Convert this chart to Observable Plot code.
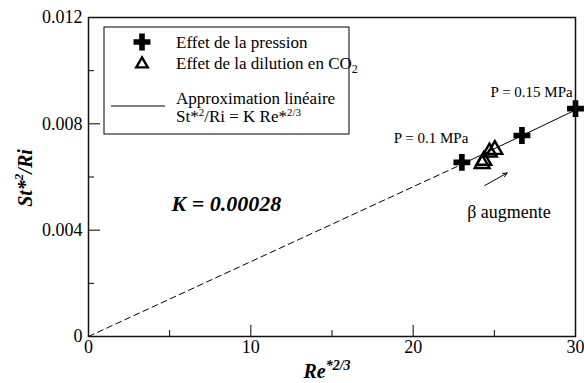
<!DOCTYPE html>
<html><head><meta charset="utf-8">
<script src="https://cdn.jsdelivr.net/npm/d3@7"></script>
<script src="https://cdn.jsdelivr.net/npm/@observablehq/plot@0.6"></script>
<style>
body{margin:0;background:#fff;}
#chart svg{display:block;}
</style></head><body><div id="chart"></div>
<script>
// ---- data ----
const pressureX = [23.0, 26.7, 30.0];
const pressureY = [0.00655, 0.00756, 0.00857];
const dilutionX = [24.25, 24.35, 24.7, 25.03];
const dilutionY = [0.00650, 0.00662, 0.00693, 0.00703];
const fitDashedX = [0, 22.9];
const fitDashedY = [0, 0.00645];
const fitSolidX = [22.9, 30.0];
const fitSolidY = [0.00645, 0.00852];
const arrowFrom = [24.41, 0.00568];
const arrowTo = [25.79, 0.00615];
const xMajorTicks = [0, 10, 20, 30];
const xMinorTicks = [5, 15, 25];
const yMajorTicks = [0, 0.004, 0.008, 0.012];
const yTickLabels = ["0", "0.004", "0.008", "0.012"];
const yMinorTicks = [0.002, 0.006, 0.010];
const pressureLabels = ["P = 0.1 MPa", "P = 0.15 MPa"];
const pressureLabelX = [21.1, 27.3];
const pressureLabelY = [0.00747, 0.00919];
const betaLabel = ["β augmente"];
const betaLabelX = [25.9];
const betaLabelY = [0.00466];
const kLabel = ["K = 0.00028"];
const kLabelX = [8.5];
const kLabelY = [0.00497];

const serif = "'Liberation Serif', 'Times New Roman', serif";
const pressure = pressureX.map((x, i) => ({x, y: pressureY[i]}));
const dilution = dilutionX.map((x, i) => ({x, y: dilutionY[i]}));
const dashed = fitDashedX.map((x, i) => ({x, y: fitDashedY[i]}));
const solid = fitSolidX.map((x, i) => ({x, y: fitSolidY[i]}));
const arrows = [{x1: arrowFrom[0], y1: arrowFrom[1], x2: arrowTo[0], y2: arrowTo[1]}];
const pLabels = pressureLabels.map((t, i) => ({t, x: pressureLabelX[i], y: pressureLabelY[i]}));
const bLabels = betaLabel.map((t, i) => ({t, x: betaLabelX[i], y: betaLabelY[i]}));
const kLabels = kLabel.map((t, i) => ({t, x: kLabelX[i], y: kLabelY[i]}));

const plot = Plot.plot({
  width: 584, height: 383,
  marginLeft: 88, marginRight: 9, marginTop: 17, marginBottom: 47,
  style: {fontFamily: serif, fontSize: "18px", color: "#000", background: "#fff"},
  x: {domain: [0, 30]},
  y: {domain: [0, 0.012]},
  marks: [
    Plot.line(dashed, {x: "x", y: "y", stroke: "#000", strokeWidth: 1, strokeDasharray: "6,4"}),
    Plot.line(solid, {x: "x", y: "y", stroke: "#000", strokeWidth: 1}),
    Plot.arrow(arrows, {x1: "x1", y1: "y1", x2: "x2", y2: "y2", stroke: "#000", strokeWidth: 1, headLength: 7, headAngle: 50}),
    Plot.dot(dilution, {x: "x", y: "y", symbol: "triangle", r: 5.5, stroke: "#000", strokeWidth: 2.4, fill: "none"}),
    Plot.dot(pressure, {x: "x", y: "y", symbol: "cross", r: 7.1, fill: "#000", stroke: "none"}),
    Plot.text(pLabels, {x: "x", y: "y", text: "t", fontSize: 15, fill: "#000"}),
    Plot.text(bLabels, {x: "x", y: "y", text: "t", fontSize: 18, fill: "#000"}),
    Plot.text(kLabels, {x: "x", y: "y", text: "t", fontSize: 22, fontWeight: "bold", fontStyle: "italic", fill: "#000"}),
    Plot.axisX(xMajorTicks, {tickSize: -11, tickPadding: 15, label: null, fontSize: 18}),
    Plot.axisX(xMinorTicks, {tickSize: -6, tickFormat: () => "", label: null}),
    Plot.axisY(yMajorTicks, {tickSize: -12, tickPadding: 18, label: null, fontSize: 18,
      tickFormat: d => yTickLabels[yMajorTicks.indexOf(d)]}),
    Plot.axisY(yMinorTicks, {tickSize: -6, tickFormat: () => "", label: null}),
    Plot.frame({stroke: "#111", strokeWidth: 1.5})
  ]
});
document.getElementById("chart").appendChild(plot);

const svg = d3.select(plot);
// axis titles
const yt = svg.append("text")
  .attr("transform", "translate(25,178) rotate(-90)")
  .attr("text-anchor", "middle").attr("dominant-baseline", "central")
  .style("font-family", serif).style("font-size", "20px")
  .style("font-weight", "bold").style("font-style", "italic").attr("fill", "#000");
yt.append("tspan").text("St*");
yt.append("tspan").attr("dy", -7).style("font-size", "13px").text("2");
yt.append("tspan").attr("dy", 7).text("/Ri");

const xt = svg.append("text")
  .attr("x", 327).attr("y", 378)
  .attr("text-anchor", "middle")
  .style("font-family", serif).style("font-size", "20px")
  .style("font-weight", "bold").style("font-style", "italic").attr("fill", "#000");
xt.append("tspan").text("Re");
xt.append("tspan").attr("dy", -8).style("font-size", "14px").text("*2/3");

// legend inside the frame
const lg = svg.append("g").style("font-family", serif).style("font-size", "17px")
  .attr("text-anchor", "start");
lg.append("rect").attr("x", 104).attr("y", 27).attr("width", 245).attr("height", 107)
  .attr("fill", "#fff").attr("stroke", "#000").attr("stroke-width", 1);
lg.append("path").attr("d", d3.symbol(d3.symbolCross, Math.PI * 7.1 * 7.1)())
  .attr("transform", "translate(142,42)").attr("fill", "#000");
lg.append("path").attr("d", d3.symbol(d3.symbolTriangle2, Math.PI * 5.5 * 5.5)())
  .attr("transform", "translate(142,64)").attr("fill", "none").attr("stroke", "#000").attr("stroke-width", 2.4);
lg.append("line").attr("x1", 111).attr("x2", 165).attr("y1", 106).attr("y2", 106)
  .attr("stroke", "#000").attr("stroke-width", 1);
const legendText = (y) => lg.append("text").attr("x", 176).attr("y", y)
  .attr("text-anchor", "start").attr("fill", "#000");
legendText(48).text("Effet de la pression");
const l2 = legendText(69);
l2.append("tspan").text("Effet de la dilution en CO");
l2.append("tspan").attr("dy", 4).style("font-size", "12px").text("2");
legendText(104).text("Approximation linéaire");
const l4 = legendText(122);
l4.append("tspan").text("St*");
l4.append("tspan").attr("dy", -6).style("font-size", "11px").text("2");
l4.append("tspan").attr("dy", 6).text("/Ri = K Re*");
l4.append("tspan").attr("dy", -6).style("font-size", "11px").text("2/3");
</script>
</body></html>
